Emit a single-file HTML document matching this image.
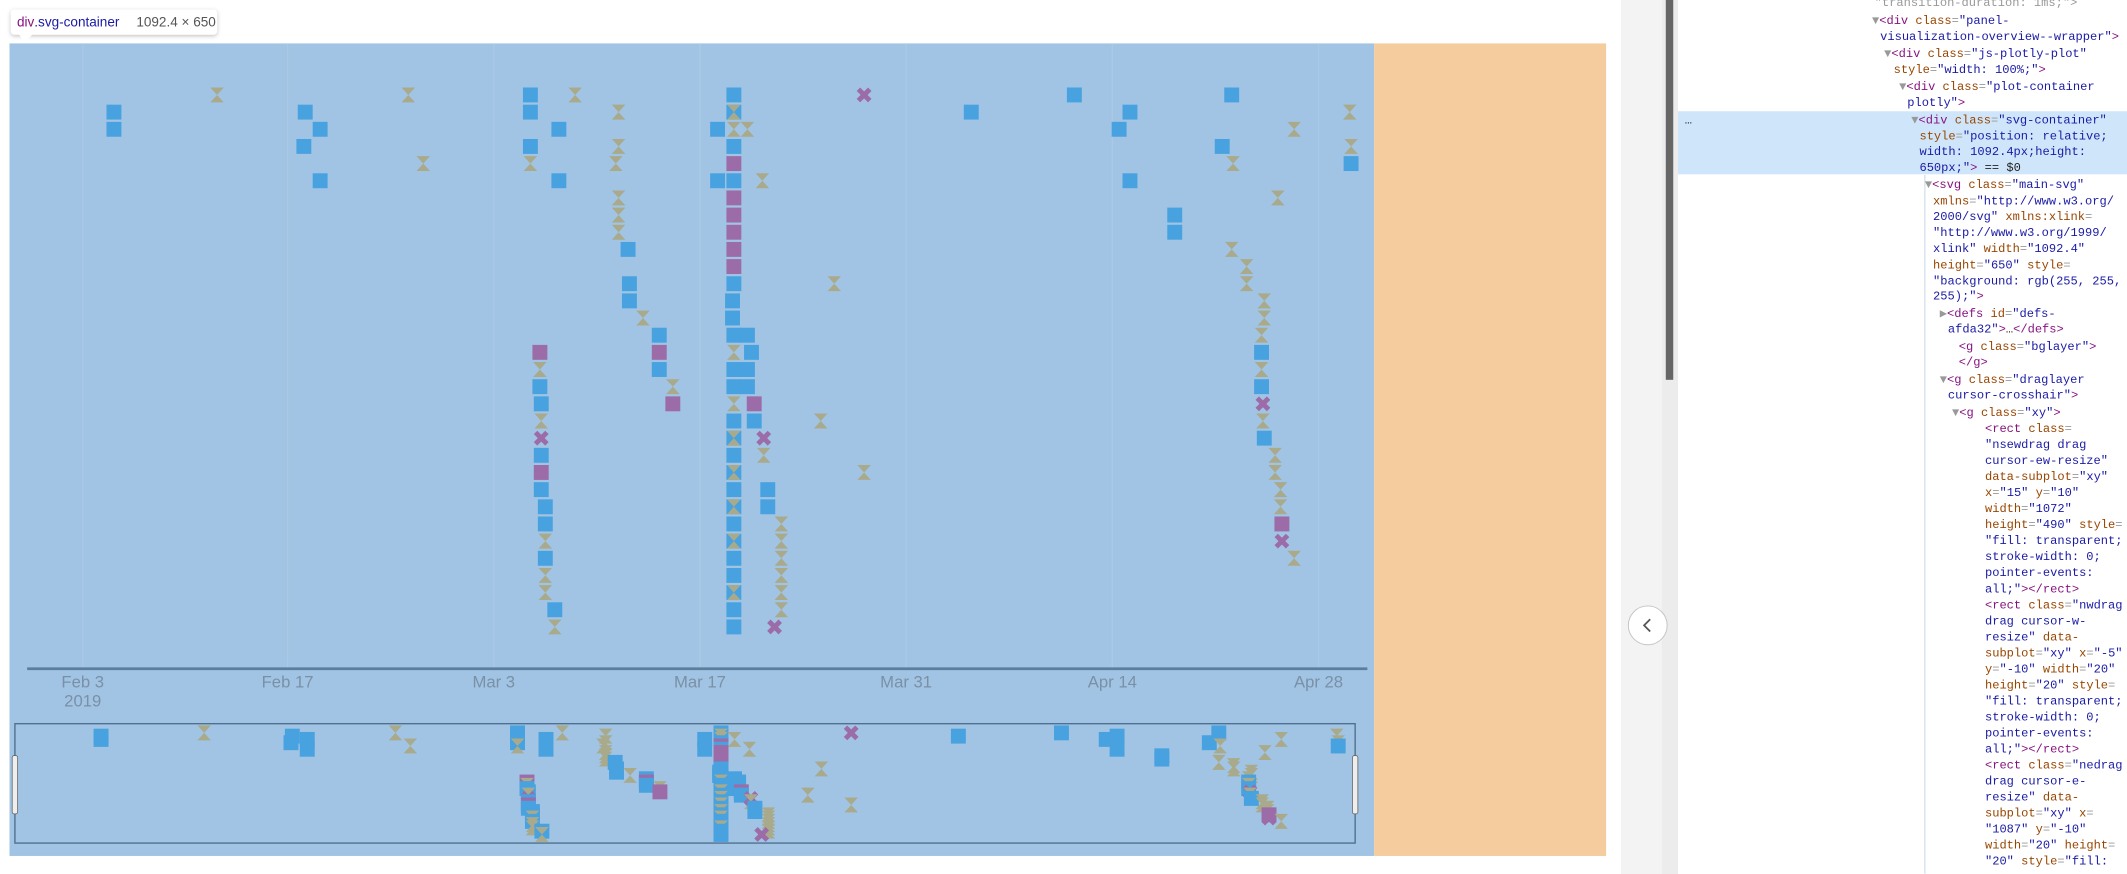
<!DOCTYPE html>
<html><head><meta charset="utf-8"><style>
html,body{margin:0;padding:0;background:#fff;overflow:hidden}
svg{display:block}
.tk{font-family:"Liberation Sans",sans-serif;font-size:12.3px;fill:#7a90a6}
.code{font-family:"Liberation Mono",monospace;font-size:8.9px;fill:#222}
.t{fill:#881280}.a{fill:#994500}.v{fill:#1a1aa6}.g{fill:#999}
</style></head><body>
<svg id="s" width="2127" height="874" viewBox="0 0 1568 644.3" preserveAspectRatio="none" xmlns="http://www.w3.org/2000/svg">
<defs>
<filter id="sh" x="-20%" y="-50%" width="140%" height="200%"><feDropShadow dx="0" dy="1" stdDeviation="1.5" flood-color="#000" flood-opacity="0.25"/></filter>
<clipPath id="clipR"><rect x="11" y="533.5" width="988" height="88"/></clipPath>
</defs>
<rect x="0" y="0" width="1568" height="644.3" fill="#fff"/>
<rect x="7" y="32" width="1006" height="599" fill="#a1c4e4"/>
<rect x="1013" y="32" width="171" height="599" fill="#f5cc9d"/>
<g stroke="#aac9e6" stroke-width="1">
<line x1="61" y1="32" x2="61" y2="493"/><line x1="212" y1="32" x2="212" y2="493"/><line x1="364" y1="32" x2="364" y2="493"/><line x1="516" y1="32" x2="516" y2="493"/><line x1="668" y1="32" x2="668" y2="493"/><line x1="820" y1="32" x2="820" y2="493"/><line x1="972" y1="32" x2="972" y2="493"/>
</g>
<g id="main"></g>
<line x1="20" y1="493" x2="1008" y2="493" stroke="#5d7d9d" stroke-width="2"/>
<g class="tk" text-anchor="middle">
<text x="61" y="507">Feb 3</text><text x="61" y="521">2019</text>
<text x="212" y="507">Feb 17</text><text x="364" y="507">Mar 3</text><text x="516" y="507">Mar 17</text>
<text x="668" y="507">Mar 31</text><text x="820" y="507">Apr 14</text><text x="972" y="507">Apr 28</text>
</g>
<g id="mini" clip-path="url(#clipR)"></g>
<rect x="11" y="533.5" width="988" height="88" fill="none" stroke="#4f6e8e" stroke-width="1"/>
<rect x="9" y="557" width="4" height="43" rx="1.5" fill="#eee" stroke="#666" stroke-width="0.6"/>
<rect x="997" y="557" width="4" height="43" rx="1.5" fill="#eee" stroke="#666" stroke-width="0.6"/>

<rect x="8" y="7" width="152" height="18.5" rx="2.5" fill="#fff" filter="url(#sh)"/>
<polygon points="14,25.3 24,25.3 18,31.5" fill="#fff"/>
<text x="12.5" y="19.5" style="font-family:'Liberation Sans',sans-serif;font-size:10px"><tspan fill="#881280">div</tspan><tspan fill="#1a1aa6">.svg-container</tspan></text>
<text x="100.5" y="19.5" style="font-family:'Liberation Sans',sans-serif;font-size:10px" fill="#555">1092.4 × 650</text>

<rect x="1195" y="0" width="30" height="644.3" fill="#f3f3f3"/>
<rect x="1225" y="0" width="12" height="644.3" fill="#ececec"/>
<rect x="1228" y="0" width="5.5" height="280" fill="#666"/>
<rect x="1237" y="0" width="331" height="644.3" fill="#fff"/>
<rect x="1237" y="82" width="331" height="46.5" fill="#cfe6fa"/>
<line x1="1419" y1="129" x2="1419" y2="644" stroke="#c9d9e8" stroke-width="0.8"/>
<circle cx="1214.7" cy="461" r="14.3" fill="#fff" stroke="#c4c4c4" stroke-width="0.7"/>
<polyline points="1216.5,456.5 1212,461 1216.5,465.5" fill="none" stroke="#555" stroke-width="1.3"/>
<text x="1242" y="91" class="code" fill="#555">…</text>
<g class="code">
<text x="1382" y="4.5" class="g">"transition-duration: 1ms;"&gt;</text>
<text x="1380" y="17.8"><tspan class="g">▼</tspan><tspan class="t">&lt;div </tspan><tspan class="a">class</tspan><tspan class="g">=</tspan><tspan class="v">"panel-</tspan></text>
<text x="1386" y="29.6" class="v">visualization-overview--wrapper"<tspan class="t">&gt;</tspan></text>
<text x="1389" y="42"><tspan class="g">▼</tspan><tspan class="t">&lt;div </tspan><tspan class="a">class</tspan><tspan class="g">=</tspan><tspan class="v">"js-plotly-plot"</tspan></text>
<text x="1396" y="53.8"><tspan class="a">style</tspan><tspan class="g">=</tspan><tspan class="v">"width: 100%;"</tspan><tspan class="t">&gt;</tspan></text>
<text x="1400" y="66.4"><tspan class="g">▼</tspan><tspan class="t">&lt;div </tspan><tspan class="a">class</tspan><tspan class="g">=</tspan><tspan class="v">"plot-container</tspan></text>
<text x="1406" y="78.2" class="v">plotly"<tspan class="t">&gt;</tspan></text>
<text x="1409" y="90.9"><tspan class="g">▼</tspan><tspan class="t">&lt;div </tspan><tspan class="a">class</tspan><tspan class="g">=</tspan><tspan class="v">"svg-container"</tspan></text>
<text x="1415" y="102.7"><tspan class="a">style</tspan><tspan class="g">=</tspan><tspan class="v">"position: relative;</tspan></text>
<text x="1415" y="114.2" class="v">width: 1092.4px;height:</text>
<text x="1415" y="126.1"><tspan class="v">650px;"</tspan><tspan class="t">&gt;</tspan> == $0</text>
<text x="1419" y="138.6"><tspan class="g">▼</tspan><tspan class="t">&lt;svg </tspan><tspan class="a">class</tspan><tspan class="g">=</tspan><tspan class="v">"main-svg"</tspan></text>
<text x="1425" y="150.6"><tspan class="a">xmlns</tspan><tspan class="g">=</tspan><tspan class="v">"http://www.w3.org/</tspan></text>
<text x="1425" y="162.2"><tspan class="v">2000/svg" </tspan><tspan class="a">xmlns:xlink</tspan><tspan class="g">=</tspan></text>
<text x="1425" y="174" class="v">"http://www.w3.org/1999/</text>
<text x="1425" y="185.8"><tspan class="v">xlink" </tspan><tspan class="a">width</tspan><tspan class="g">=</tspan><tspan class="v">"1092.4"</tspan></text>
<text x="1425" y="197.8"><tspan class="a">height</tspan><tspan class="g">=</tspan><tspan class="v">"650" </tspan><tspan class="a">style</tspan><tspan class="g">=</tspan></text>
<text x="1425" y="209.6" class="v">"background: rgb(255, 255,</text>
<text x="1425" y="220.7"><tspan class="v">255);"</tspan><tspan class="t">&gt;</tspan></text>
<text x="1430" y="233.6"><tspan class="g">▶</tspan><tspan class="t">&lt;defs </tspan><tspan class="a">id</tspan><tspan class="g">=</tspan><tspan class="v">"defs-</tspan></text>
<text x="1436" y="245.2"><tspan class="v">afda32"</tspan><tspan class="t">&gt;</tspan>…<tspan class="t">&lt;/defs&gt;</tspan></text>
<text x="1444" y="257.9"><tspan class="t">&lt;g </tspan><tspan class="a">class</tspan><tspan class="g">=</tspan><tspan class="v">"bglayer"</tspan><tspan class="t">&gt;</tspan></text>
<text x="1444" y="269.6" class="t">&lt;/g&gt;</text>
<text x="1430" y="282.2"><tspan class="g">▼</tspan><tspan class="t">&lt;g </tspan><tspan class="a">class</tspan><tspan class="g">=</tspan><tspan class="v">"draglayer</tspan></text>
<text x="1436" y="293.9" class="v">cursor-crosshair"<tspan class="t">&gt;</tspan></text>
<text x="1439" y="306.8"><tspan class="g">▼</tspan><tspan class="t">&lt;g </tspan><tspan class="a">class</tspan><tspan class="g">=</tspan><tspan class="v">"xy"</tspan><tspan class="t">&gt;</tspan></text>
</g>
<g class="code" id="rects"></g>
</svg>
<script>
var NS="http://www.w3.org/2000/svg";
function el(n,a,p){var e=document.createElementNS(NS,n);for(var k in a)e.setAttribute(k,a[k]);p.appendChild(e);return e;}
var lines=[
[["t","<rect "],["a","class"],["g","="]],
[["v","\"nsewdrag drag"]],
[["v","cursor-ew-resize\""]],
[["a","data-subplot"],["g","="],["v","\"xy\""]],
[["a","x"],["g","="],["v","\"15\" "],["a","y"],["g","="],["v","\"10\""]],
[["a","width"],["g","="],["v","\"1072\""]],
[["a","height"],["g","="],["v","\"490\" "],["a","style"],["g","="]],
[["v","\"fill: transparent;"]],
[["v","stroke-width: 0;"]],
[["v","pointer-events:"]],
[["v","all;\""],["t","></rect>"]],
[["t","<rect "],["a","class"],["g","="],["v","\"nwdrag"]],
[["v","drag cursor-w-"]],
[["v","resize\" "],["a","data-"]],
[["a","subplot"],["g","="],["v","\"xy\" "],["a","x"],["g","="],["v","\"-5\""]],
[["a","y"],["g","="],["v","\"-10\" "],["a","width"],["g","="],["v","\"20\""]],
[["a","height"],["g","="],["v","\"20\" "],["a","style"],["g","="]],
[["v","\"fill: transparent;"]],
[["v","stroke-width: 0;"]],
[["v","pointer-events:"]],
[["v","all;\""],["t","></rect>"]],
[["t","<rect "],["a","class"],["g","="],["v","\"nedrag"]],
[["v","drag cursor-e-"]],
[["v","resize\" "],["a","data-"]],
[["a","subplot"],["g","="],["v","\"xy\" "],["a","x"],["g","="]],
[["v","\"1087\" "],["a","y"],["g","="],["v","\"-10\""]],
[["a","width"],["g","="],["v","\"20\" "],["a","height"],["g","="]],
[["v","\"20\" "],["a","style"],["g","="],["v","\"fill:"]]
];
var R=document.getElementById("rects");
lines.forEach(function(l,i){var t=el("text",{x:1463.3,y:318.6+i*11.8},R);l.forEach(function(s){var ts=el("tspan",{"class":s[0]},t);ts.textContent=s[1];});});

var B="#48a2e0",P="#9c6ca9",H="#a9aa8b";
var D=[
[84,1,"b"],[84,2,"b"],[160,0,"h"],[225,1,"b"],[236,2,"b"],[224,3,"b"],[236,5,"b"],[301,0,"h"],[312,4,"h"],
[391,0,"b"],[391,1,"b"],[391,3,"b"],[391,4,"h"],[424,0,"h"],[456,1,"h"],[456,3,"h"],[454,4,"h"],[456,6,"h"],[456,7,"h"],[456,8,"h"],
[412,2,"b"],[412,5,"b"],
[398,15,"p"],[398,16,"h"],[398,17,"b"],[399,18,"b"],[399,19,"h"],[399,20,"x"],[399,21,"b"],[399,22,"p"],[399,23,"b"],
[402,24,"b"],[402,25,"b"],[402,26,"h"],[402,27,"b"],[402,28,"h"],[402,29,"h"],[409,30,"b"],[409,31,"h"],
[463,9,"b"],[464,11,"b"],[464,12,"b"],[474,13,"h"],[486,14,"b"],[486,15,"p"],[486,16,"b"],[496,17,"h"],[496,18,"p"],
[541,0,"b"],[541,1,"bh"],[529,2,"b"],[541,2,"h"],[551,2,"h"],[541,3,"b"],[541,4,"p"],[529,5,"b"],[541,5,"b"],[562,5,"h"],
[541,6,"p"],[541,7,"p"],[541,8,"p"],[541,9,"p"],[541,10,"p"],[541,11,"b"],[540,12,"b"],[540,13,"b"],
[541,14,"b"],[551,14,"b"],[554,15,"b"],[541,15,"h"],[541,16,"b"],[551,16,"b"],[541,17,"b"],[551,17,"b"],
[541,18,"h"],[556,18,"p"],[541,19,"b"],[556,19,"b"],[541,20,"bh"],[563,20,"x"],[541,21,"b"],[563,21,"h"],
[541,22,"bh"],[541,23,"b"],[566,23,"b"],[541,24,"bh"],[566,24,"b"],[541,25,"b"],[576,25,"h"],[541,26,"bh"],[576,26,"h"],
[541,27,"b"],[576,27,"h"],[541,28,"b"],[576,28,"h"],[541,29,"bh"],[576,29,"h"],[541,30,"b"],[576,30,"h"],[541,31,"b"],[571,31,"x"],
[637,0,"x"],[615,11,"h"],[605,19,"h"],[637,22,"h"],[716,1,"b"],[792,0,"b"],
[908,0,"b"],[833,1,"b"],[995,1,"h"],[825,2,"b"],[954,2,"h"],[901,3,"b"],[996,3,"h"],[909,4,"h"],[996,4,"b"],[833,5,"b"],
[942,6,"h"],[866,7,"b"],[866,8,"b"],[908,9,"h"],[919,10,"h"],[919,11,"h"],[932,12,"h"],[932,13,"h"],[930,14,"h"],[930,15,"b"],
[930,16,"h"],[930,17,"b"],[931,18,"x"],[931,19,"h"],[932,20,"b"],[940,21,"h"],[940,22,"h"],[944,23,"h"],[944,24,"h"],[945,25,"p"],[945,26,"x"],[954,27,"h"]
];
function mk(g,x,y,t){
 var s=5.5;
 if(t=="b"||t=="bh"||t=="p"){el("rect",{x:x-s,y:y-s,width:11,height:11,fill:t=="p"?P:B},g);}
 if(t=="h"||t=="bh"){el("polygon",{points:(x-5)+","+(y-5.5)+" "+(x+5)+","+(y-5.5)+" "+x+","+y+" "+(x+5)+","+(y+5.5)+" "+(x-5)+","+(y+5.5)+" "+x+","+y,fill:H},g);}
 if(t=="x"){var d=4.2;el("path",{d:"M"+(x-d)+" "+(y-d)+"L"+(x+d)+" "+(y+d)+"M"+(x+d)+" "+(y-d)+"L"+(x-d)+" "+(y+d),stroke:P,"stroke-width":3.6,fill:"none"},g);}
}
var M=document.getElementById("main"),N=document.getElementById("mini");
D.forEach(function(d){var y=70+d[1]*12.65;mk(M,d[0],y,d[2]);mk(N,d[0]-9.5,533+(y-32)*0.191,d[2]);});
</script>
</body></html>
